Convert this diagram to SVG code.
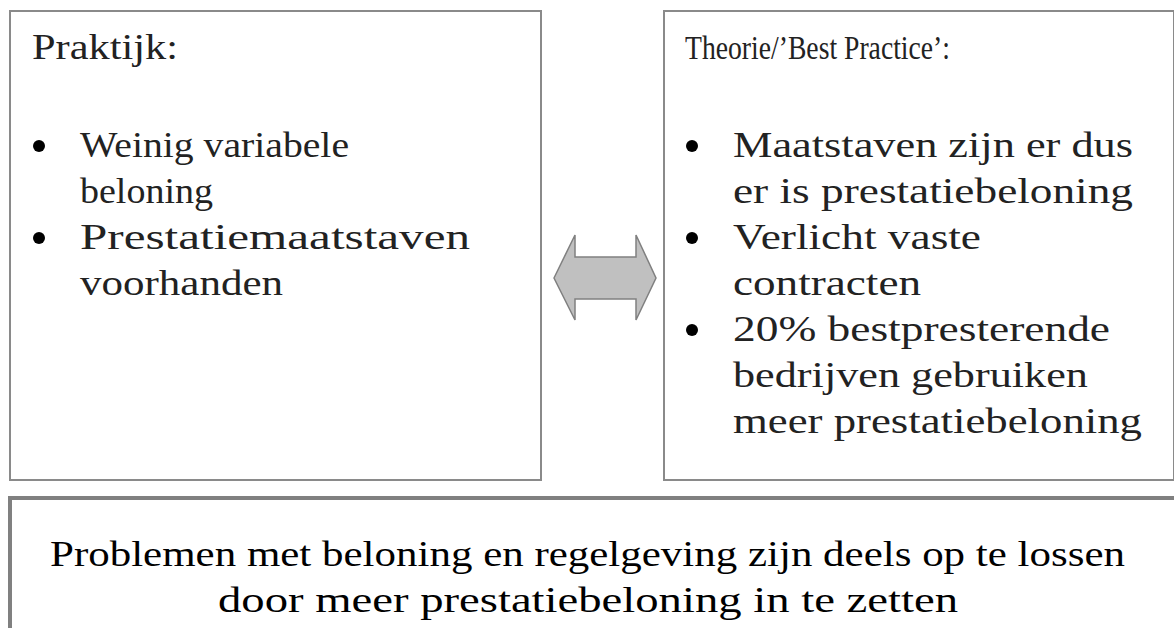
<svg xmlns="http://www.w3.org/2000/svg" width="1174" height="628" viewBox="0 0 1174 628">
<style>
.box{fill:#ffffff;stroke:#8a8a8a;stroke-width:2}
.bbox{fill:#ffffff;stroke:#808080;stroke-width:4}
.t{font-family:"Liberation Serif","Times New Roman",serif;font-size:36px;fill:#222222}
.h{font-family:"Liberation Serif","Times New Roman",serif;font-size:34px;fill:#222222}
.b{font-family:"Liberation Serif","Times New Roman",serif;font-size:36px;fill:#000000;text-anchor:middle}
.dot{fill:#000000}
.arrow{fill:#c0c0c0;stroke:#808080;stroke-width:1.5;stroke-linejoin:miter}
</style>
<rect width="1174" height="628" fill="#ffffff"/>
<g id="praktijk">
<rect class="box" x="10" y="11" width="531" height="469"/>
<text class="t" x="32" y="59" textLength="146" lengthAdjust="spacingAndGlyphs">Praktijk:</text>
<circle class="dot" cx="39" cy="146" r="6"/>
<text class="t" x="80" y="157" textLength="269" lengthAdjust="spacingAndGlyphs">Weinig variabele</text>
<text class="t" x="80" y="203" textLength="133" lengthAdjust="spacingAndGlyphs">beloning</text>
<circle class="dot" cx="39" cy="238" r="6"/>
<text class="t" x="80" y="249" textLength="390" lengthAdjust="spacingAndGlyphs">Prestatiemaatstaven</text>
<text class="t" x="80" y="295" textLength="203" lengthAdjust="spacingAndGlyphs">voorhanden</text>
</g>
<g id="theorie">
<rect class="box" x="664" y="11" width="510" height="469"/>
<text class="h" x="685" y="59" textLength="265" lengthAdjust="spacingAndGlyphs">Theorie/’Best Practice’:</text>
<circle class="dot" cx="692" cy="146" r="6"/>
<text class="t" x="733" y="157" textLength="400" lengthAdjust="spacingAndGlyphs">Maatstaven zijn er dus</text>
<text class="t" x="733" y="203" textLength="400" lengthAdjust="spacingAndGlyphs">er is prestatiebeloning</text>
<circle class="dot" cx="692" cy="238" r="6"/>
<text class="t" x="733" y="249" textLength="248" lengthAdjust="spacingAndGlyphs">Verlicht vaste</text>
<text class="t" x="733" y="295" textLength="188" lengthAdjust="spacingAndGlyphs">contracten</text>
<circle class="dot" cx="692" cy="330" r="6"/>
<text class="t" x="733" y="341" textLength="377" lengthAdjust="spacingAndGlyphs">20% bestpresterende</text>
<text class="t" x="733" y="387" textLength="355" lengthAdjust="spacingAndGlyphs">bedrijven gebruiken</text>
<text class="t" x="733" y="433" textLength="409" lengthAdjust="spacingAndGlyphs">meer prestatiebeloning</text>
</g>
<g id="conclusie">
<rect class="bbox" x="10" y="498" width="1180" height="150"/>
<text class="b" x="587.5" y="566" textLength="1075" lengthAdjust="spacingAndGlyphs">Problemen met beloning en regelgeving zijn deels op te lossen</text>
<text class="b" x="588" y="612" textLength="740" lengthAdjust="spacingAndGlyphs">door meer prestatiebeloning in te zetten</text>
</g>
<g id="connectors">
<polygon class="arrow" points="554,278 575,235 575,257 636,257 636,235 656,278 636,320 636,299 575,299 575,320"/>
</g>
</svg>
